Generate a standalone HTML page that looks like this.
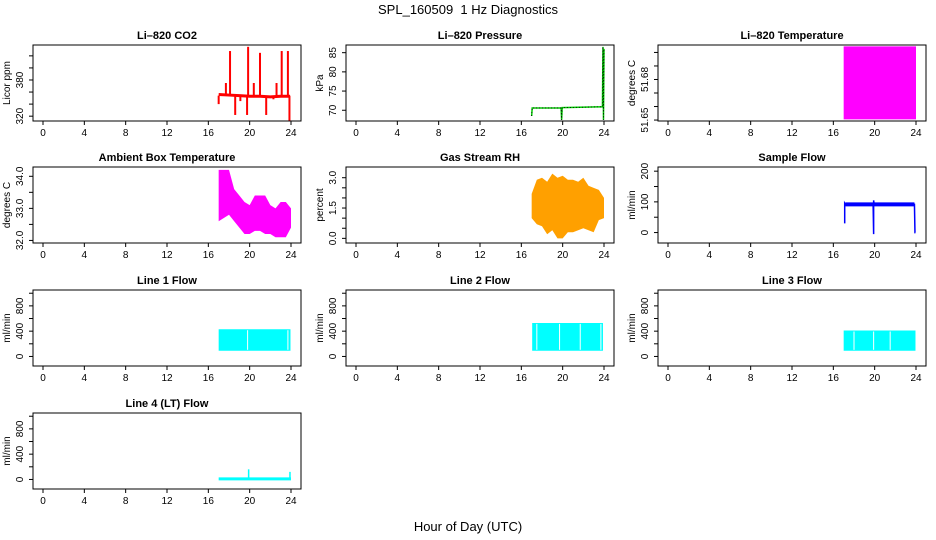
<!DOCTYPE html>
<html><head><meta charset="utf-8"><style>
body{margin:0;background:#fff}
svg{display:block;font-family:"Liberation Sans",sans-serif}
</style></head><body>
<svg id="c" width="936" height="540" viewBox="0 0 936 540">
<text x="468" y="14" text-anchor="middle" font-size="13">SPL_160509&#160; 1 Hz Diagnostics</text>
<text x="468" y="531" text-anchor="middle" font-size="13">Hour of Day (UTC)</text>
</svg>
<script>
// ---- data ----
const xTicks = [0,4,8,12,16,20,24];
// CO2
const co2BaseT = [17.0,18.0,19.0,20.0,21.0,22.0,23.0,23.9];
const co2BaseV = [356,355,354,353,353,352,353,353];
const co2SpikeT = [17.0,17.7,18.1,18.6,19.1,19.75,19.85,20.4,21.0,21.6,22.3,22.6,23.1,23.7,23.85];
const co2SpikeV = [340,375,428,322,345,322,435,375,425,322,348,375,428,428,312];
// Pressure
const presT = [17.0,17.05,19.85,19.9,19.95,23.85,23.9,23.95,24.0];
const presV = [68.5,70.6,70.6,67.5,70.7,70.9,86.5,67.5,86.0];
// Li-820 temperature band
const ltT = [17.0,24.0];
const ltLo = [51.6505,51.6505];
const ltHi = [51.7045,51.7045];
// Ambient box temperature
const abT = [17.0,17.5,18.0,18.5,19.0,19.5,20.0,20.5,21.0,21.5,22.0,22.5,23.0,23.5,24.0];
const abHi = [34.2,34.2,34.2,33.6,33.4,33.2,33.1,33.4,33.4,33.4,33.1,33.0,33.2,33.2,33.0];
const abLo = [32.6,32.7,32.8,32.6,32.4,32.2,32.2,32.3,32.3,32.2,32.2,32.1,32.1,32.1,32.4];
// Gas stream RH
const rhT = [17.0,17.5,18.0,18.5,19.0,19.5,20.0,20.5,21.0,21.5,22.0,22.5,23.0,23.5,24.0];
const rhHi = [2.2,2.9,3.0,2.8,3.2,3.0,3.1,2.9,2.9,2.8,3.0,2.6,2.5,2.4,2.0];
const rhLo = [1.0,0.7,0.6,0.2,0.4,0.0,0.0,0.3,0.3,0.4,0.5,0.4,0.3,0.9,1.0];
// Sample flow
const sfT = [17.1,17.1,17.15,19.85,19.9,19.9,19.95,23.85,23.9,23.95];
const sfV = [30,95,92,92,-5,105,92,92,0,0];
// Line flows
const l1T = [17.0,23.95]; const l1Lo = [90,90]; const l1Hi = [430,430]; const l1Gaps = [19.8,23.7];
const l2T = [17.05,23.9]; const l2Lo = [90,90]; const l2Hi = [530,530]; const l2Gaps = [17.5,19.7,21.7,23.7];
const l3T = [17.0,23.95]; const l3Lo = [90,90]; const l3Hi = [410,410]; const l3Gaps = [18.0,19.9,21.5];
const l4T = [17.0,24.0]; const l4V = [10,10];
const l4SpikeT = [19.9,23.9]; const l4SpikeV = [160,120];

const NS = "http://www.w3.org/2000/svg";
const svg = document.getElementById('c');
function mk(tag, attrs, parent){const e=document.createElementNS(NS,tag);for(const k in attrs)e.setAttribute(k,attrs[k]);(parent||svg).appendChild(e);return e;}

const lefts=[33,346,658], tops=[45,167,290,413], W=268, H=76;

function panel(c,r,title,ytitle,ylim,yticks,ylabels,name){
  const L=lefts[c],T=tops[r];
  const g=mk('g',{});
  
  
  const X=v=>L+10+v*(248/24);
  const Y=v=>T+H-(v-ylim[0])/(ylim[1]-ylim[0])*H;
  const t=mk('text',{x:L+W/2,y:T-6,'text-anchor':'middle','font-size':11,'font-weight':'bold'},g);t.textContent=title;
  
  
  const yt=mk('text',{x:0,y:0,transform:`translate(${L-23},${T+H/2}) rotate(-90)`,'text-anchor':'middle','font-size':10},g);yt.textContent=ytitle;
  
  
  xTicks.forEach(v=>{
    mk('line',{x1:X(v),x2:X(v),y1:T+H,y2:T+H+4,stroke:'#000'},g);
    const l=mk('text',{x:X(v),y:T+H+15,'text-anchor':'middle','font-size':10},g);l.textContent=v;
    
    
  });
  yticks.forEach((v,i)=>{
    mk('line',{x1:L-4,x2:L,y1:Y(v),y2:Y(v),stroke:'#000'},g);
    if(ylabels[i]){const l=mk('text',{x:0,y:0,transform:`translate(${L-10},${Y(v)}) rotate(-90)`,'text-anchor':'middle','font-size':10},g);l.textContent=ylabels[i];
      
      }
  });
  const plot=mk('g',{},g);
  const cp='cp'+c+r;
  const clip=mk('clipPath',{id:cp},svg);mk('rect',{x:L,y:T,width:W,height:H},clip);
  plot.setAttribute('clip-path',`url(#${cp})`);
  const box=mk('rect',{x:L,y:T,width:W,height:H,fill:'none',stroke:'#000'},g);
  
  
  return {X,Y,plot};
}
function line(p,ts,vs,attrs){return mk('polyline',Object.assign({points:ts.map((t,i)=>p.X(t)+','+p.Y(vs[i])).join(' '),fill:'none'},attrs),p.plot);}
function band(p,ts,lo,hi,fill){
  const pts=ts.map((t,i)=>p.X(t)+','+p.Y(hi[i])).concat(ts.map((t,i)=>p.X(t)+','+p.Y(lo[i])).reverse());
  return mk('polygon',{points:pts.join(' '),fill:fill},p.plot);
}
function spikes(p,ts,vs,base,col,w){ts.forEach((t,i)=>{mk('line',{x1:p.X(t),x2:p.X(t),y1:p.Y(base),y2:p.Y(vs[i]),stroke:col,'stroke-width':w},p.plot);});}

let p=panel(0,0,'Li–820 CO2','Licor ppm',[312,438],[320,340,360,380,400,420],['320','','','380','',''],'co2');
spikes(p,co2SpikeT,co2SpikeV,354,'#ff0000',2);
let s=line(p,co2BaseT,co2BaseV,{stroke:'#ff0000','stroke-width':3});



p=panel(1,0,'Li–820 Pressure','kPa',[67.2,87.0],[70,75,80,85],['70','75','80','85'],'pressure');
s=line(p,presT,presV,{stroke:'#00cc00','stroke-width':1.5});


line(p,presT,presV,{stroke:'#000','stroke-width':0.8,'stroke-dasharray':'1 2'});

p=panel(2,0,'Li–820 Temperature','degrees C',[51.6493,51.7055],[51.65,51.66,51.67,51.68,51.69,51.70],['51.65','','','51.68','',''],'li820-temperature');
s=band(p,ltT,ltLo,ltHi,'#ff00ff');



p=panel(0,1,'Ambient Box Temperature','degrees C',[31.92,34.29],[32,32.5,33,33.5,34],['32.0','','33.0','','34.0'],'ambient-temperature');
s=band(p,abT,abLo,abHi,'#ff00ff');



p=panel(1,1,'Gas Stream RH','percent',[-0.23,3.53],[0,0.5,1,1.5,2,2.5,3],['0.0','','','1.5','','','3.0'],'rh');
s=band(p,rhT,rhLo,rhHi,'#ffa000');



p=panel(2,1,'Sample Flow','ml/min',[-34,213.6],[0,50,100,150,200],['0','','100','','200'],'sample-flow');
s=line(p,sfT,sfV,{stroke:'#0000ff','stroke-width':1.5});


line(p,[17.15,23.85],[92,92],{stroke:'#0000ff','stroke-width':4});

const fy=[-151,1051], ft=[0,200,400,600,800,1000], fl=['0','','400','','800',''];
function flowPanel(c,r,title,ts,lo,hi,gaps,name){
  const q=panel(c,r,title,'ml/min',fy,ft,fl,name);
  const b=band(q,ts,lo,hi,'#00ffff');
  
  
  gaps.forEach(t=>mk('line',{x1:q.X(t),x2:q.X(t),y1:q.Y(hi[0]-15),y2:q.Y(lo[0]+15),stroke:'#fff','stroke-width':1},q.plot));
}
flowPanel(0,2,'Line 1 Flow',l1T,l1Lo,l1Hi,l1Gaps,'line1-flow');
flowPanel(1,2,'Line 2 Flow',l2T,l2Lo,l2Hi,l2Gaps,'line2-flow');
flowPanel(2,2,'Line 3 Flow',l3T,l3Lo,l3Hi,l3Gaps,'line3-flow');
p=panel(0,3,'Line 4 (LT) Flow','ml/min',fy,ft,fl,'line4-flow');
s=line(p,l4T,l4V,{stroke:'#00ffff','stroke-width':3});


spikes(p,l4SpikeT,l4SpikeV,10,'#00ffff',1.5);
</script>
</body></html>
